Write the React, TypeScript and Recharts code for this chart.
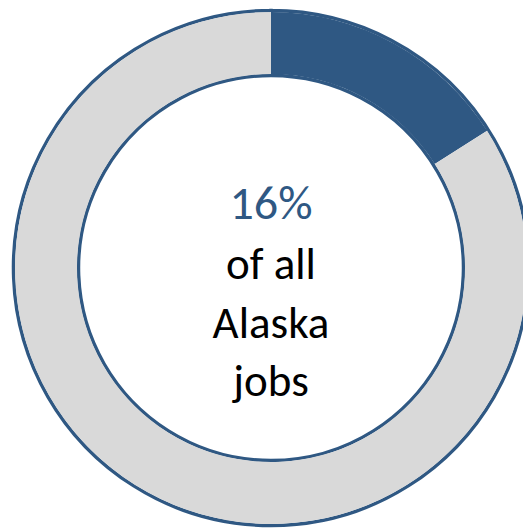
import React from "react";
import { PieChart, Pie, Cell, Label } from "recharts";

const categories = ["Share", "Rest"];
const values = [16, 84];
const ringValues = [1];
const centerLines = ["16%", "of all", "Alaska", "jobs"];

const BLUE = "#2F5883";
const GRAY = "#D9D9D9";
const CX = 263;
const CY = 260;

const data = categories.map((name, i) => ({ name, value: values[i] }));
const ringData = ringValues.map((value) => ({ name: "ring", value }));

const CenterText = () => {
  const font = "Carlito, Lato, 'Open Sans', sans-serif";
  const offsets = [-49, 11, 70, 128];
  const sizes = [48, 45, 45, 45];
  return (
    <g>
      {centerLines.map((t, i) => (
        <text
          key={i}
          x={CX}
          y={CY + offsets[i]}
          textAnchor="middle"
          fontFamily={font}
          fontSize={sizes[i]}
          fill={i === 0 ? BLUE : "#000000"}
        >
          {t}
        </text>
      ))}
    </g>
  );
};

export default function App() {
  return (
    <PieChart width={523} height={520} margin={{ top: 0, right: 0, bottom: 0, left: 0 }}>
      <Pie
        data={ringData}
        dataKey="value"
        cx={CX}
        cy={CY}
        innerRadius={192.5}
        outerRadius={257.5}
        startAngle={90}
        endAngle={-270}
        fill="none"
        stroke={BLUE}
        strokeWidth={3.5}
        isAnimationActive={false}
      />
      <Pie
        data={data}
        dataKey="value"
        cx={CX}
        cy={CY}
        innerRadius={194}
        outerRadius={256}
        startAngle={90}
        endAngle={-270}
        stroke="none"
        isAnimationActive={false}
      >
        {data.map((d, i) => (
          <Cell key={d.name} fill={i === 0 ? BLUE : GRAY} />
        ))}
        <Label position="center" content={<CenterText />} />
      </Pie>
    </PieChart>
  );
}
